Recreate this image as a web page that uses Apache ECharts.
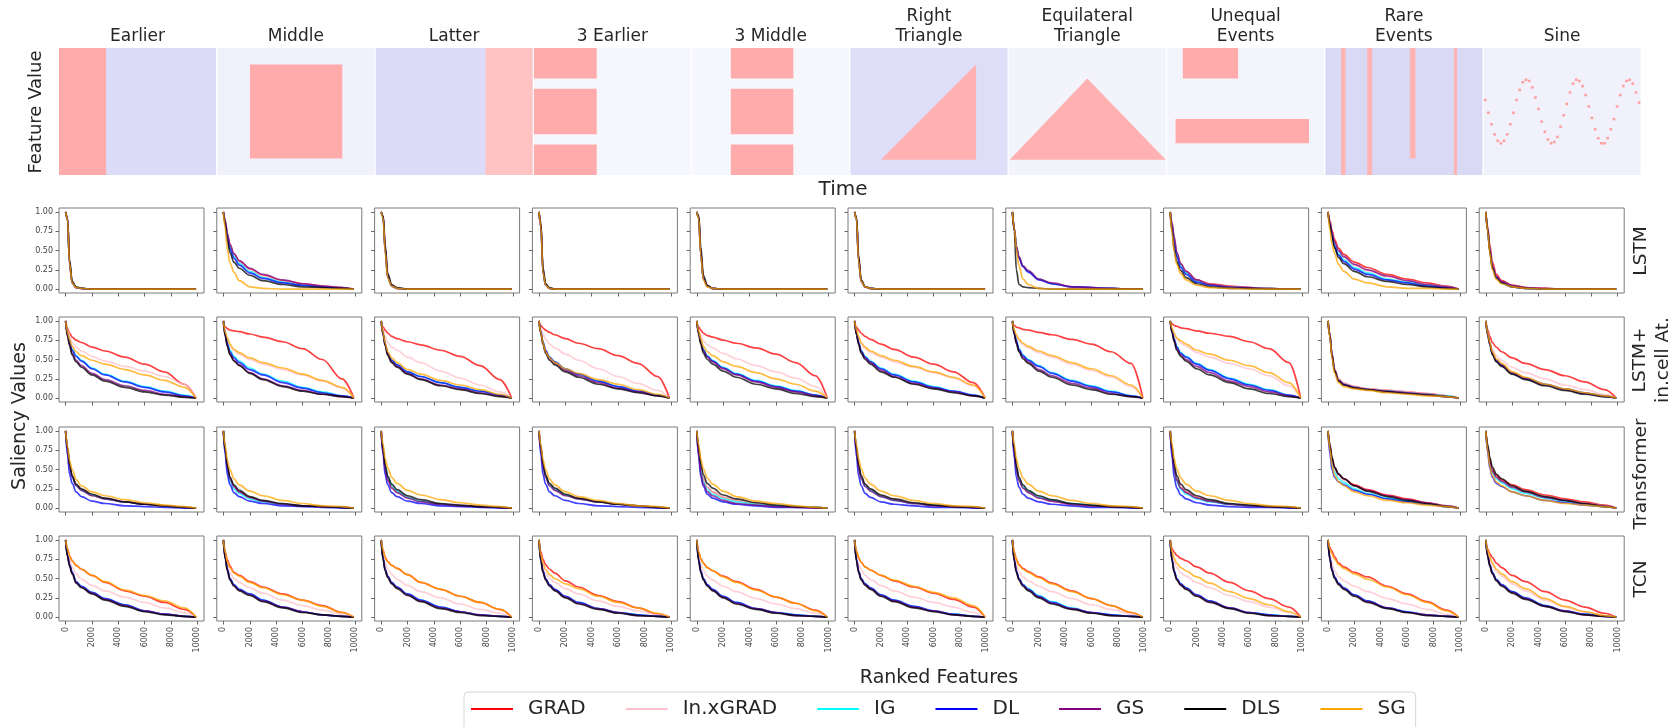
<!DOCTYPE html>
<html>
<head>
<meta charset="utf-8">
<script src="https://cdn.jsdelivr.net/npm/echarts@6.0.0/dist/echarts.min.js"></script>
<style>
  html, body { margin: 0; background: #fff; }
  #chart { width: 1679px; height: 727px; }
</style>
</head>
<body>
<div id="chart"></div>
<script>
// methods (legend order = draw order, SG on top)
const methods = ['GRAD', 'In.xGRAD', 'IG', 'DL', 'GS', 'DLS', 'SG'];
const datasets = ['Earlier', 'Middle', 'Latter', '3 Earlier', '3 Middle', 'Right\nTriangle',
  'Equilateral\nTriangle', 'Unequal\nEvents', 'Rare\nEvents', 'Sine'];
const models = ['LSTM', 'LSTM+\nin.cell At.', 'Transformer', 'TCN'];

// x positions (ranked feature index) of the sampled curve points
const ranks = [0, 150, 300, 500, 800, 1200, 2000, 3000, 4500, 6000, 7500, 9000, 9900];
const rankTicks = [0, 2000, 4000, 6000, 8000, 10000];
const saliencyTicks = [0, 0.25, 0.5, 0.75, 1];

// saliency values (x100), per dataset: [GRAD, In.xGRAD, IG, DL, GS, DLS, SG]
const lstm = [
  [[100,90,32,8,2,1,0,0,0,0,0,0,0],[100,90,32,8,2,1,0,0,0,0,0,0,0],[100,90,33,8,2,1,0,0,0,0,0,0,0],
   [100,90,33,8,2,1,0,0,0,0,0,0,0],[100,91,35,9,2,1,0,0,0,0,0,0,0],[100,92,38,10,3,1,0,0,0,0,0,0,0],
   [100,90,33,8,2,1,0,0,0,0,0,0,0]],
  [[100,87,71,57,45,36,26,18,11,7,4,2,0],[100,87,70,56,44,35,25,17,10,6,4,2,0],[100,86,69,54,42,33,23,15,9,5,3,1,0],
   [100,85,67,52,40,31,21,14,8,5,3,1,0],[100,88,72,58,46,37,27,19,12,7,4,2,0],[100,83,63,47,35,27,18,11,6,3,2,1,0],
   [100,78,51,34,22,11,3,1,0,0,0,0,0]],
  [[100,93,50,15,4,1,0,0,0,0,0,0,0],[100,93,50,15,4,1,0,0,0,0,0,0,0],[100,93,50,15,4,1,0,0,0,0,0,0,0],
   [100,93,51,15,4,1,0,0,0,0,0,0,0],[100,94,53,17,5,1,0,0,0,0,0,0,0],[100,95,58,20,6,2,0,0,0,0,0,0,0],
   [100,92,48,14,4,1,0,0,0,0,0,0,0]],
  [[100,80,22,5,1,0,0,0,0,0,0,0,0],[100,80,22,5,1,0,0,0,0,0,0,0,0],[100,80,22,5,1,0,0,0,0,0,0,0,0],
   [100,80,23,5,1,0,0,0,0,0,0,0,0],[100,82,25,6,1,0,0,0,0,0,0,0,0],[100,85,28,7,2,0,0,0,0,0,0,0,0],
   [100,80,22,5,1,0,0,0,0,0,0,0,0]],
  [[100,92,45,13,4,1,0,0,0,0,0,0,0],[100,92,45,13,4,1,0,0,0,0,0,0,0],[100,92,45,13,4,1,0,0,0,0,0,0,0],
   [100,92,46,13,4,1,0,0,0,0,0,0,0],[100,93,48,14,4,1,0,0,0,0,0,0,0],[100,95,55,18,5,1,0,0,0,0,0,0,0],
   [100,91,44,12,3,1,0,0,0,0,0,0,0]],
  [[100,90,38,10,3,1,0,0,0,0,0,0,0],[100,90,38,10,3,1,0,0,0,0,0,0,0],[100,90,38,10,3,1,0,0,0,0,0,0,0],
   [100,90,38,10,3,1,0,0,0,0,0,0,0],[100,91,40,11,3,1,0,0,0,0,0,0,0],[100,93,44,12,3,1,0,0,0,0,0,0,0],
   [100,90,37,10,3,1,0,0,0,0,0,0,0]],
  [[100,78,55,41,30,23,13,7,3,2,1,0,0],[100,78,55,41,30,23,13,7,3,2,1,0,0],[100,78,55,41,30,23,13,7,3,2,1,0,0],
   [100,78,54,40,29,22,12,7,3,2,1,0,0],[100,78,55,42,30,24,13,8,3,2,1,0,0],[100,75,25,6,3,2,1,0,0,0,0,0,0],
   [100,78,52,30,13,6,1,0,0,0,0,0,0]],
  [[100,82,64,46,32,23,12,7,4,2,1,0,0],[100,82,63,45,31,22,11,6,3,2,1,0,0],[100,81,62,44,30,21,10,5,3,1,1,0,0],
   [100,80,60,42,28,19,9,5,2,1,0,0,0],[100,85,68,48,33,23,12,6,3,2,1,0,0],[100,74,51,35,24,15,7,3,1,1,0,0,0],
   [100,72,48,32,20,12,5,2,1,0,0,0,0]],
  [[100,88,76,64,53,45,35,28,19,13,8,4,0],[100,86,73,60,49,41,31,24,16,11,6,3,0],[100,85,71,57,46,38,28,21,13,9,5,2,0],
   [100,84,70,55,44,36,26,19,12,8,4,2,0],[100,86,74,61,50,42,32,25,17,11,6,3,0],[100,83,68,53,41,33,23,16,10,6,3,1,0],
   [100,76,58,46,32,23,13,8,3,1,1,0,0]],
  [[100,80,58,35,19,11,5,2,1,0,0,0,0],[100,77,52,30,16,9,4,1,0,0,0,0,0],[100,76,50,28,15,8,3,1,0,0,0,0,0],
   [100,76,50,28,15,8,3,1,0,0,0,0,0],[100,77,52,30,17,10,5,2,1,0,0,0,0],[100,76,49,27,14,8,3,1,0,0,0,0,0],
   [100,74,47,25,13,7,3,1,0,0,0,0,0]]
];

const lstmCell = [
  [[100,90,84,79,75,72,66,61,53,44,34,18,0],[100,88,80,72,66,61,54,48,41,35,28,18,0],[100,84,74,63,55,49,39,31,22,15,9,4,0],
   [100,83,73,62,54,48,38,30,21,14,8,3,0],[100,81,70,58,49,42,32,24,16,10,5,2,0],[100,80,68,56,47,40,30,22,14,8,4,1,0],
   [100,85,76,67,60,55,49,44,37,30,23,14,0]],
  [[100,92,90,88,87,86,83,79,73,64,50,25,0],[100,84,76,68,61,57,50,44,37,30,22,13,0],[100,83,72,62,54,48,39,31,22,14,8,3,0],
   [100,82,70,60,52,46,37,30,20,13,7,3,0],[100,80,68,57,49,43,33,25,16,10,5,2,0],[100,80,67,56,48,42,32,24,15,9,5,2,0],
   [100,85,78,70,63,59,52,46,39,31,23,14,0]],
  [[100,92,88,84,80,77,73,69,62,54,42,24,0],[100,88,80,72,66,62,53,46,35,26,17,8,0],[100,83,70,58,49,43,34,28,20,14,9,4,0],
   [100,83,70,58,49,43,34,28,20,14,9,4,0],[100,82,69,56,47,41,32,25,17,12,7,3,0],[100,82,68,55,46,40,31,24,16,11,6,2,0],
   [100,84,72,60,52,46,37,31,23,17,11,5,0]],
  [[100,94,91,88,85,82,77,71,64,55,45,28,0],[100,90,84,76,70,65,57,49,38,28,19,10,0],[100,85,73,62,53,47,38,31,22,15,9,4,0],
   [100,85,73,62,53,47,38,31,22,15,9,4,0],[100,84,71,60,51,45,36,29,20,13,8,3,0],[100,83,70,58,49,43,34,27,18,12,7,3,0],
   [100,84,72,60,52,46,38,32,24,18,11,5,0]],
  [[100,92,88,84,81,79,75,71,65,57,46,29,0],[100,88,82,74,69,65,58,51,42,34,26,15,0],[100,85,74,63,55,49,40,32,23,16,10,4,0],
   [100,84,73,62,54,48,39,31,22,15,9,4,0],[100,84,72,61,53,47,38,30,21,14,8,3,0],[100,82,70,58,50,44,35,27,18,12,6,2,0],
   [100,86,77,67,60,55,47,41,33,25,18,9,0]],
  [[100,92,88,84,80,76,70,63,53,44,34,20,0],[100,87,78,70,64,59,53,47,40,33,26,16,0],[100,84,73,62,54,48,39,31,22,15,9,4,0],
   [100,83,72,61,53,47,38,30,21,14,9,4,0],[100,82,71,60,52,46,36,28,19,13,8,3,0],[100,82,70,58,50,44,34,27,18,12,7,3,0],
   [100,88,80,72,66,61,55,49,41,34,27,17,0]],
  [[100,94,92,91,89,88,85,82,76,70,60,45,0],[100,87,80,74,69,65,59,53,44,36,27,15,0],[100,85,75,64,56,50,42,33,23,16,9,3,0],
   [100,84,74,63,55,49,41,32,22,15,8,3,0],[100,83,72,61,53,47,37,29,19,13,6,2,0],[100,82,71,60,51,45,35,27,17,11,5,2,0],
   [100,88,82,76,71,67,61,55,46,38,29,17,0]],
  [[100,96,94,93,91,90,87,84,80,73,64,46,0],[100,89,82,76,71,67,59,53,45,38,29,16,0],[100,87,77,67,59,54,45,37,26,18,11,4,0],
   [100,86,76,66,58,53,44,36,25,17,10,4,0],[100,85,75,64,56,50,41,33,22,15,8,3,0],[100,84,73,62,54,48,38,30,20,12,6,2,0],
   [100,90,84,78,74,70,62,57,49,42,33,20,0]],
  [[100,82,58,38,25,19,15,12,10,8,6,3,0],[100,82,58,38,25,19,15,12,10,8,6,3,0],[100,80,56,36,23,18,14,11,9,7,5,3,0],
   [100,80,55,35,22,17,13,11,8,6,4,2,0],[100,81,56,36,23,18,14,11,9,7,5,2,0],[100,80,55,35,22,17,13,11,8,6,4,2,0],
   [100,78,52,32,20,15,12,10,7,5,3,2,0]],
  [[100,88,80,72,66,60,52,45,37,29,21,11,0],[100,85,74,63,55,49,40,33,25,17,11,5,0],[100,83,71,58,49,43,33,26,18,12,7,3,0],
   [100,82,70,57,48,42,32,25,17,11,6,2,0],[100,83,71,58,49,43,33,26,18,12,7,3,0],[100,82,70,56,47,41,31,24,16,10,5,2,0],
   [100,84,72,60,51,45,34,27,18,12,7,3,0]]
];

const transformer = [
  [[100,77,56,41,30,24,17,12,8,5,3,1,0],[100,77,56,41,30,24,17,12,8,5,3,1,0],[100,76,55,40,29,23,17,12,8,5,3,1,0],
   [100,68,44,32,21,15,9,6,3,2,1,0,0],[100,76,55,40,29,23,16,12,8,5,3,1,0],[100,78,57,42,31,25,18,13,8,5,3,1,0],
   [100,80,62,50,37,29,21,16,11,7,4,2,0]],
  [[100,74,52,37,27,21,13,9,5,3,2,1,0],[100,74,52,37,27,21,13,9,5,3,2,1,0],[100,72,50,35,25,19,12,8,5,3,2,1,0],
   [100,68,43,30,20,15,9,6,3,2,1,0,0],[100,74,52,38,28,21,14,9,5,3,2,1,0],[100,76,55,40,30,23,15,10,6,3,2,1,0],
   [100,80,62,50,38,30,22,16,10,6,3,2,0]],
  [[100,74,53,38,28,21,14,9,5,3,2,1,0],[100,74,52,37,27,21,13,9,5,3,2,1,0],[100,75,54,39,29,22,14,9,5,3,2,1,0],
   [100,68,43,30,20,15,9,6,3,2,1,0,0],[100,72,50,36,26,20,13,8,5,3,2,1,0],[100,77,56,41,31,24,16,11,6,4,2,1,0],
   [100,82,64,52,40,32,23,17,11,7,4,2,0]],
  [[100,76,55,40,30,24,17,12,8,5,3,1,0],[100,76,55,40,30,24,17,12,8,5,3,1,0],[100,77,56,41,30,24,17,12,8,5,3,1,0],
   [100,68,44,31,21,16,10,6,3,2,1,0,0],[100,76,55,40,29,23,16,12,8,5,3,1,0],[100,79,58,43,32,26,18,13,8,5,3,1,0],
   [100,81,63,50,38,30,21,15,10,6,3,2,0]],
  [[100,74,52,37,27,21,14,10,6,3,2,1,0],[100,74,52,37,27,21,14,10,6,3,2,1,0],[100,72,49,34,24,18,12,8,5,3,2,1,0],
   [100,66,41,28,18,13,8,5,3,1,1,0,0],[100,68,45,31,21,16,10,6,4,2,1,0,0],[100,78,58,43,32,26,17,12,7,4,2,1,0],
   [100,82,64,51,39,31,22,15,9,6,3,1,0]],
  [[100,76,55,40,30,24,16,11,6,4,2,1,0],[100,76,55,40,30,24,16,11,6,4,2,1,0],[100,75,54,39,29,23,15,10,6,4,2,1,0],
   [100,66,42,29,19,14,8,5,3,1,1,0,0],[100,74,52,38,28,22,15,10,6,3,2,1,0],[100,78,57,42,31,25,17,12,7,4,2,1,0],
   [100,82,64,51,39,31,22,16,10,6,3,2,0]],
  [[100,74,52,37,27,21,14,9,5,3,2,1,0],[100,74,52,37,27,21,14,9,5,3,2,1,0],[100,74,52,38,28,22,15,10,6,4,2,1,0],
   [100,64,40,27,18,13,8,5,3,1,1,0,0],[100,72,50,36,26,20,13,9,5,3,2,1,0],[100,76,55,40,30,23,16,11,6,4,2,1,0],
   [100,82,64,51,39,31,22,16,10,6,3,2,0]],
  [[100,74,52,37,27,21,14,9,5,3,2,1,0],[100,74,52,37,27,21,14,9,5,3,2,1,0],[100,72,50,35,24,18,12,8,5,3,2,1,0],
   [100,64,40,26,17,12,7,4,2,1,1,0,0],[100,72,50,36,26,20,13,9,5,3,2,1,0],[100,78,57,42,31,24,16,11,6,4,2,1,0],
   [100,82,64,51,39,31,22,16,10,6,3,2,0]],
  [[100,80,64,52,44,38,30,24,17,12,7,3,0],[100,78,62,50,42,36,28,22,15,10,6,3,0],[100,76,58,46,38,33,25,19,13,9,5,2,0],
   [100,70,50,40,34,30,23,18,12,8,5,2,0],[100,80,64,52,44,38,29,23,16,11,7,3,0],[100,82,66,53,44,38,29,22,15,10,6,2,0],
   [100,76,56,42,34,29,21,16,10,7,4,2,0]],
  [[100,78,62,50,42,37,30,24,17,12,8,4,0],[100,76,58,46,38,33,26,20,14,10,6,3,0],[100,76,58,46,38,33,25,19,13,9,5,2,0],
   [100,72,52,40,32,28,21,16,10,7,4,2,0],[100,78,60,48,40,35,27,21,14,10,6,3,0],[100,82,66,53,44,38,29,22,15,10,6,2,0],
   [100,74,54,42,34,29,21,16,10,6,4,2,0]]
];

const tcn = [
  [[100,88,79,73,67,62,54,45,34,27,19,10,0],[100,84,74,64,56,49,41,34,26,19,12,6,0],[100,80,68,58,46,40,32,24,16,8,4,1,0],
   [100,80,68,58,46,40,32,24,16,8,4,1,0],[100,79,67,57,45,39,31,23,15,8,4,1,0],[100,78,66,56,44,38,30,22,14,7,3,1,0],
   [100,88,79,73,67,62,54,46,35,28,21,12,0]],
  [[100,84,74,66,58,54,46,39,30,22,15,6,0],[100,80,68,58,50,45,38,31,22,15,9,4,0],[100,76,62,50,42,36,30,22,13,7,3,1,0],
   [100,76,62,50,42,36,30,22,13,7,3,1,0],[100,76,61,49,41,35,29,21,13,7,3,1,0],[100,75,60,48,40,34,28,20,12,6,3,1,0],
   [100,83,72,64,57,53,45,38,29,22,14,6,0]],
  [[100,86,77,72,67,63,55,45,36,27,19,10,0],[100,82,70,62,55,49,41,33,25,17,10,5,0],[100,76,62,53,45,39,30,22,13,7,3,1,0],
   [100,76,62,53,45,39,30,22,13,7,3,1,0],[100,75,61,52,44,38,29,21,12,7,3,1,0],[100,74,60,51,43,37,28,20,11,6,2,1,0],
   [100,86,77,72,67,63,55,45,36,27,19,10,0]],
  [[100,84,75,68,62,57,47,39,28,20,12,4,0],[100,78,66,57,50,45,37,30,21,14,8,3,0],[100,74,60,50,42,36,27,19,11,6,3,1,0],
   [100,74,60,50,42,36,27,19,11,6,3,1,0],[100,73,59,49,41,35,26,18,11,6,2,1,0],[100,72,58,48,40,34,25,17,10,5,2,1,0],
   [100,80,70,62,55,50,43,37,27,19,12,5,0]],
  [[100,84,76,70,64,60,53,46,36,26,18,9,0],[100,80,68,60,53,48,40,33,24,17,11,5,0],[100,74,60,50,42,36,27,19,11,6,3,1,0],
   [100,74,60,50,42,36,27,19,11,6,3,1,0],[100,73,59,49,41,35,26,18,11,6,2,1,0],[100,72,58,48,40,34,25,17,10,5,2,1,0],
   [100,84,76,70,64,60,52,45,35,26,18,8,0]],
  [[100,85,77,71,65,61,54,47,39,31,23,13,0],[100,80,69,61,54,49,41,34,26,19,13,6,0],[100,74,60,50,43,38,29,22,14,8,4,1,0],
   [100,74,60,50,43,38,29,22,14,8,4,1,0],[100,73,59,49,42,37,28,21,13,8,3,1,0],[100,72,58,48,41,36,27,20,12,7,3,1,0],
   [100,85,77,71,65,61,54,48,40,32,25,15,0]],
  [[100,84,75,68,63,59,52,44,34,24,15,6,0],[100,80,68,59,52,47,40,33,24,16,10,4,0],[100,74,60,50,42,37,28,20,12,6,3,1,0],
   [100,74,60,50,42,36,27,19,11,6,3,1,0],[100,73,59,49,41,35,26,18,11,6,2,1,0],[100,72,58,48,40,34,25,17,10,5,2,1,0],
   [100,83,74,67,62,58,51,43,33,24,15,6,0]],
  [[100,88,84,80,76,73,65,57,45,34,24,13,0],[100,82,72,64,57,53,45,38,28,20,13,6,0],[100,74,60,50,43,38,29,21,12,6,3,1,0],
   [100,74,60,50,43,38,29,21,12,6,3,1,0],[100,73,59,49,42,37,28,20,12,6,2,1,0],[100,72,58,48,41,36,27,19,11,5,2,1,0],
   [100,84,76,70,64,60,52,44,33,24,16,7,0]],
  [[100,90,85,78,70,65,58,52,40,30,20,9,0],[100,82,70,60,52,47,40,33,24,17,10,4,0],[100,76,62,52,44,38,29,21,12,7,3,1,0],
   [100,76,62,52,44,38,29,21,12,7,3,1,0],[100,75,61,51,43,37,28,20,12,6,3,1,0],[100,74,60,50,42,36,27,19,11,6,2,1,0],
   [100,88,82,75,68,63,56,49,39,29,19,8,0]],
  [[100,88,82,77,70,64,54,46,33,22,13,5,0],[100,84,75,67,59,53,43,34,22,13,7,2,0],[100,80,68,58,49,42,33,25,15,8,4,1,0],
   [100,80,68,58,49,42,33,25,15,8,4,1,0],[100,79,67,57,48,41,32,24,14,8,3,1,0],[100,78,66,56,47,40,31,23,14,7,3,1,0],
   [100,86,78,70,62,56,46,37,24,14,7,2,0]]
];

// top row patterns, time 0-50 x feature 0-100: [t0,f0,t1,f1] = box, 6 numbers = triangle
const patterns = [
  [[0, 0, 15, 100]],
  [[10.4, 13, 39.8, 87]],
  [[35, 0, 50, 100]],
  [[0, 76, 20, 100], [0, 32, 20, 68], [0, 0, 20, 24]],
  [[12.3, 76, 32.2, 100], [12.3, 32, 32.2, 68], [12.3, 0, 32.2, 24]],
  [[9.7, 12, 40, 12, 40, 87]],
  [[0.3, 12, 50, 12, 25, 76]],
  [[5, 76, 22.6, 100], [2.7, 25, 45.2, 44]],
  [[5, 0, 6.4, 100], [13.3, 0, 14.9, 100], [26.9, 13, 28.7, 100], [40.9, 0, 41.9, 100]],
  []
];
// feature row of the Sine event at each time step
const sineRows = [59,49,40,32,27,25,27,32,40,49,59,67,73,75,74,69,61,52,42,34,28,25,26,30,38,
  47,56,65,72,75,74,70,63,54,45,36,29,25,25,29,36,44,54,63,70,74,75,72,65,57];

const colors = ['#ff0000', '#ffc0cb', '#00ffff', '#0000ff', '#800080', '#000000', '#ffa500'];
const bgColors = ['#dcdcf8', '#f1f1fc', '#dcdcf8', '#f6f6fd', '#f6f6fd', '#dedef8', '#f3f3fc', '#f4f4fc', '#d9d9f6', '#f1f1fb'];
const fillColors = ['#ffabab', '#ffabab', '#ffc3c3', '#ffabab', '#ffabab', '#ffb0b0', '#ffb0b0', '#ffabab', '#ffb3b3', '#ffa0a0'];
const FONT = '"DejaVu Sans", sans-serif';
const TXT = '#262626';

const chart = echarts.init(document.getElementById('chart'), null, { renderer: 'canvas' });
const grid = [], xAxis = [], yAxis = [], series = [], graphic = [];

function label(text, x, y, size, opts) {
  opts = opts || {};
  graphic.push({
    type: 'text', x: x, y: y, rotation: opts.rotation || 0, silent: true,
    style: {
      text: text, fill: TXT, font: size + 'px ' + FONT,
      align: opts.align || 'center', verticalAlign: opts.valign || 'middle',
      textAlign: opts.align || 'center', textVerticalAlign: opts.valign || 'middle',
      lineHeight: opts.lineHeight
    }
  });
}

// ---- top pattern panels ----
datasets.forEach((name, i) => {
  const left = 59 + i * 158.3;
  grid.push({ left: left, top: 48, width: 157, height: 127, show: true,
    backgroundColor: bgColors[i], borderWidth: 0, outerBoundsMode: 'none' });
  xAxis.push({ gridIndex: i, type: 'value', min: 0, max: 50, show: false });
  yAxis.push({ gridIndex: i, type: 'value', min: 0, max: 100, show: false });
  const polys = i === 9 ? sineRows.map((f, t) => [t + 0.05, f - 1, t + 0.9, f + 1]) : patterns[i];
  series.push({
    type: 'custom', xAxisIndex: i, yAxisIndex: i, silent: true, animation: false,
    data: polys.map(p => [p[0], p[1]]),
    renderItem: (params, api) => {
      const p = polys[params.dataIndex];
      const pts = p.length === 4
        ? [[p[0], p[1]], [p[2], p[1]], [p[2], p[3]], [p[0], p[3]]]
        : [[p[0], p[1]], [p[2], p[3]], [p[4], p[5]]];
      return { type: 'polygon', shape: { points: pts.map(v => api.coord(v)) }, style: { fill: fillColors[i] } };
    }
  });
  label(name, left + 78.5, 47, 17, { valign: 'bottom', lineHeight: 20 });
});

// ---- saliency curve panels ----
const modelData = [lstm, lstmCell, transformer, tcn];
const rowTops = [208, 317, 427, 536];
modelData.forEach((rows, r) => {
  rows.forEach((curves, c) => {
    const g = grid.length;
    grid.push({ left: 59 + c * 157.8, top: rowTops[r], width: 145, height: 85, show: true,
      borderColor: '#7a7a7a', borderWidth: 1, backgroundColor: 'transparent', outerBoundsMode: 'none' });
    xAxis.push({
      gridIndex: g, type: 'value', min: -500, max: 10500, position: 'bottom',
      axisLine: { show: false, onZero: false }, splitLine: { show: false },
      axisTick: { show: true, length: 3.5, lineStyle: { color: '#666' }, customValues: rankTicks },
      axisLabel: { show: r === 3, customValues: rankTicks, rotate: 90, fontSize: 8,
        color: '#444', margin: 6, fontFamily: FONT, formatter: v => String(v) }
    });
    yAxis.push({
      gridIndex: g, type: 'value', min: -0.05, max: 1.05, position: 'left',
      axisLine: { show: false, onZero: false }, splitLine: { show: false },
      axisTick: { show: true, length: 3.5, lineStyle: { color: '#666' }, customValues: saliencyTicks },
      axisLabel: { show: c === 0, customValues: saliencyTicks, fontSize: 8, color: '#444', margin: 6,
        fontFamily: FONT, formatter: v => v.toFixed(2) }
    });
    curves.forEach((vals, m) => {
      series.push({
        type: 'line', name: methods[m], xAxisIndex: g, yAxisIndex: g,
        data: ranks.map((x, k) => [x, vals[k] / 100]),
        smooth: 0.35, smoothMonotone: 'x', showSymbol: false, symbol: 'none',
        silent: true, animation: false,
        lineStyle: { width: 1.7, color: colors[m], opacity: 0.75 },
        itemStyle: { color: colors[m] }
      });
    });
  });
  label(models[r], r === 1 ? 1652 : 1641, rowTops[r] + 43 + (r === 2 ? 4 : 0), 18.5,
    { rotation: Math.PI / 2, lineHeight: 23 });
});

label('Feature Value', 36, 112, 18, { rotation: Math.PI / 2 });
label('Time', 843, 190, 20);
label('Saliency Values', 20, 416, 19, { rotation: Math.PI / 2 });
label('Ranked Features', 939, 678, 19);

chart.setOption({
  animation: false,
  grid: grid, xAxis: xAxis, yAxis: yAxis, series: series, graphic: graphic,
  legend: {
    data: methods, left: 464, top: 692, selectedMode: false,
    icon: 'rect', itemWidth: 42, itemHeight: 2, itemGap: 40,
    padding: [7, 10, 30, 7], borderColor: '#d6d6d6', borderWidth: 1, borderRadius: 4,
    textStyle: { fontSize: 20, fontFamily: FONT, color: TXT, padding: [0, 0, 0, 10] }
  }
});
</script>
</body>
</html>
